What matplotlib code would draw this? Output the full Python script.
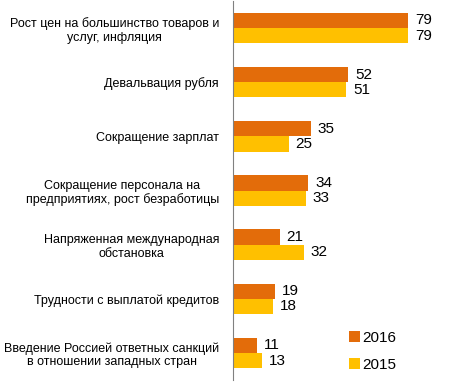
import numpy as np
import matplotlib.pyplot as plt

plt.rcParams['font.family'] = ['Liberation Sans', 'DejaVu Sans']

categories = ['Рост цен на большинство товаров и\nуслуг, инфляция',
              'Девальвация рубля',
              'Сокращение зарплат',
              'Сокращение персонала на\nпредприятиях, рост безработицы',
              'Напряженная международная\nобстановка',
              'Трудности с выплатой кредитов',
              'Введение Россией ответных санкций\nв отношении западных стран']
v2016 = [79, 52, 35, 34, 21, 19, 11]
v2015 = [79, 51, 25, 33, 32, 18, 13]

fig = plt.figure(figsize=(4.55, 3.88), dpi=100)
ax = fig.add_axes([233 / 455, 8 / 388, 222 / 455, 379 / 388])

y = np.arange(len(categories))
h = 0.28
ax.barh(y - h / 2, v2016, height=h, color='#E36C0A', label='2016')
ax.barh(y + h / 2, v2015, height=h, color='#FFC000', label='2015')

for i in range(len(categories)):
    ax.text(v2016[i] + 3, y[i] - h / 2, str(v2016[i]), va='center', ha='left', fontsize=11)
    ax.text(v2015[i] + 3, y[i] + h / 2, str(v2015[i]), va='center', ha='left', fontsize=11)

ax.set_yticks(y)
ax.set_yticklabels(categories, fontsize=9, multialignment='center')
ax.tick_params(axis='y', length=0, pad=10)
ax.set_ylim(len(categories) - 0.5, -0.5)
ax.set_xlim(0, 100)
ax.set_xticks([])
for s in ['top', 'right', 'bottom']:
    ax.spines[s].set_visible(False)
ax.spines['left'].set_color('#808080')

ax.legend(loc='lower left', bbox_to_anchor=(0.46, -0.015), frameon=False, fontsize=11,
          handlelength=0.7, handleheight=0.7, handletextpad=0.2, labelspacing=0.85)

fig.savefig('out.png', dpi=100)
